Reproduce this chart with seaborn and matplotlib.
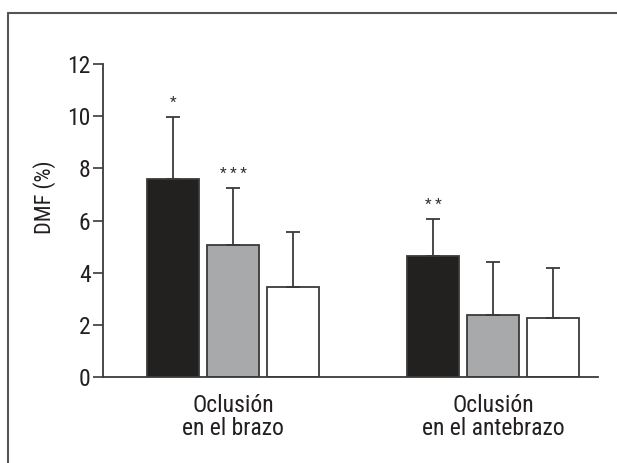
import matplotlib
matplotlib.use("Agg")
import matplotlib.pyplot as plt
import seaborn as sns
import pandas as pd
from matplotlib.lines import Line2D

groups = ["Oclusión\nen el brazo", "Oclusión\nen el antebrazo"]
series = ["A", "B", "C"]
means = {"A": [7.6, 4.65], "B": [5.05, 2.37], "C": [3.45, 2.26]}
errs = {"A": [2.38, 1.42], "B": [2.2, 2.05], "C": [2.1, 1.9]}
stars = {"A": ["*", "**"], "B": ["***", ""], "C": ["", ""]}
colors = {"A": "#231f20", "B": "#a7a9ac", "C": "#ffffff"}
yticks = [0, 2, 4, 6, 8, 10, 12]

rows = []
for s in series:
    for g, m in zip(groups, means[s]):
        rows.append({"grupo": g, "serie": s, "valor": m})
df = pd.DataFrame(rows)

sns.set_style("white")
plt.rcParams["font.family"] = ["Roboto Condensed", "DejaVu Sans"]

fig = plt.figure(figsize=(6.17, 4.63), dpi=100)
ax = fig.add_axes([103/617, 1-377/463, (598-103)/617, (377-64)/463])

sns.barplot(data=df, x="grupo", y="valor", hue="serie", order=groups,
            hue_order=series, palette=colors, width=0.69, gap=0.13,
            edgecolor="#3a3a3a", linewidth=1.3, errorbar=None, ax=ax,
            legend=False)

ec = "#3a3a3a"
tc = "#231f20"
for cont, s in zip(ax.containers, series):
    xs = [p.get_x() + p.get_width()/2 for p in cont.patches]
    ax.errorbar(xs, means[s], yerr=[[0]*len(xs), errs[s]], fmt="none",
                ecolor=ec, elinewidth=1.3, capsize=5, capthick=1.3, zorder=1)
    for x, m, e, t in zip(xs, means[s], errs[s], stars[s]):
        if t:
            ax.text(x, m + e + 0.25, " ".join(t), ha="center", va="bottom",
                    fontsize=11, color="#333333")

ax.set_xlim(-0.5, 1.404)
ax.set_ylim(0, 12)
ax.set_yticks(yticks)
ax.set_yticklabels([str(v) for v in yticks])
ax.set_ylabel("DMF (%)", fontsize=16, color=tc)
ax.yaxis.set_label_coords(-0.095, 0.575)
ax.set_xlabel("")
ax.tick_params(axis="y", left=True, length=7, width=1.2, color=ec,
               labelsize=17, labelcolor=tc, pad=2)
ax.tick_params(axis="x", bottom=False, labelsize=17, labelcolor=tc, pad=9)
for lab in ax.get_xticklabels():
    lab.set_linespacing(0.98)
for sp in ["top", "right"]:
    ax.spines[sp].set_visible(False)
for sp in ["left", "bottom"]:
    ax.spines[sp].set_color(ec)
    ax.spines[sp].set_linewidth(1.3)

# outer frame (open at right and bottom)
fc = "#555555"
fig.add_artist(Line2D([7.5/617, 7.5/617], [0, 1-13/463], transform=fig.transFigure,
                      color=fc, lw=1.5))
fig.add_artist(Line2D([7.5/617, 1], [1-13/463, 1-13/463], transform=fig.transFigure,
                      color=fc, lw=1.5))

fig.savefig("out.png", dpi=100)
